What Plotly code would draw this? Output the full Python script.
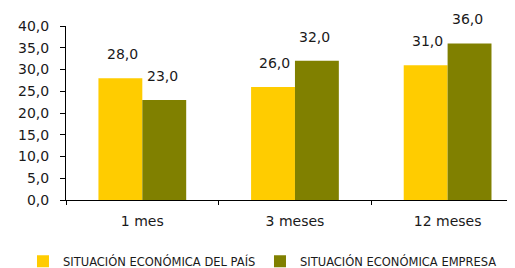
import plotly.graph_objects as go

categories = ["1 mes", "3 meses", "12 meses"]
pais = [28.0, 26.0, 31.0]
empresa = [23.0, 32.0, 36.0]
series_names = ["SITUACIÓN ECONÓMICA DEL PAÍS", "SITUACIÓN ECONÓMICA EMPRESA"]
colors = ["#FFCC00", "#808000"]

FONT = "DejaVu Sans"
TXT = "#1a1a1a"

fig = go.Figure()
for name, vals, col in zip(series_names, [pais, empresa], colors):
    fig.add_trace(go.Bar(x=categories, y=vals, name=name, marker=dict(color=col, line=dict(width=0))))

annotations = []
for vals, shift in [(pais, -20), (empresa, 20)]:
    for c, v in zip(categories, vals):
        annotations.append(dict(x=c, y=v, xref="x", yref="y", text=f"{v:.1f}".replace(".", ","),
                                showarrow=False, xshift=shift, yshift=24,
                                font=dict(family=FONT, size=14, color=TXT)))

# page body has an 8px default margin, so the figure is sized to fit the window
fig.update_layout(
    width=507, height=260,
    margin=dict(l=58, r=1, t=18, b=68, autoexpand=False),
    paper_bgcolor="white", plot_bgcolor="white",
    separators=",.",
    barmode="group", bargap=0.425, bargroupgap=0,
    font=dict(family=FONT, size=12, color=TXT),
    showlegend=True,
    legend=dict(orientation="h", x=-0.096, xanchor="left", y=-0.352, yanchor="middle",
                font=dict(family=FONT, size=11.5, color=TXT), itemwidth=30,
                entrywidth=192, entrywidthmode="pixels",
                tracegroupgap=0, bgcolor="rgba(0,0,0,0)"),
    annotations=annotations,
)
fig.update_xaxes(range=[-0.5, 2.435], showline=True, linecolor="black", linewidth=1,
                 ticks="outside", tickson="boundaries", ticklen=4, tickcolor="black",
                 ticklabelstandoff=8,
                 tickfont=dict(family=FONT, size=14, color=TXT), showgrid=False, zeroline=False)
fig.update_yaxes(range=[0, 40], dtick=5, tickformat=".1f", showline=True, linecolor="black",
                 linewidth=1, ticks="outside", ticklen=5, tickcolor="black",
                 ticklabelstandoff=8,
                 tickfont=dict(family=FONT, size=14, color=TXT), showgrid=False, zeroline=False)

fig.write_html("out.html")
